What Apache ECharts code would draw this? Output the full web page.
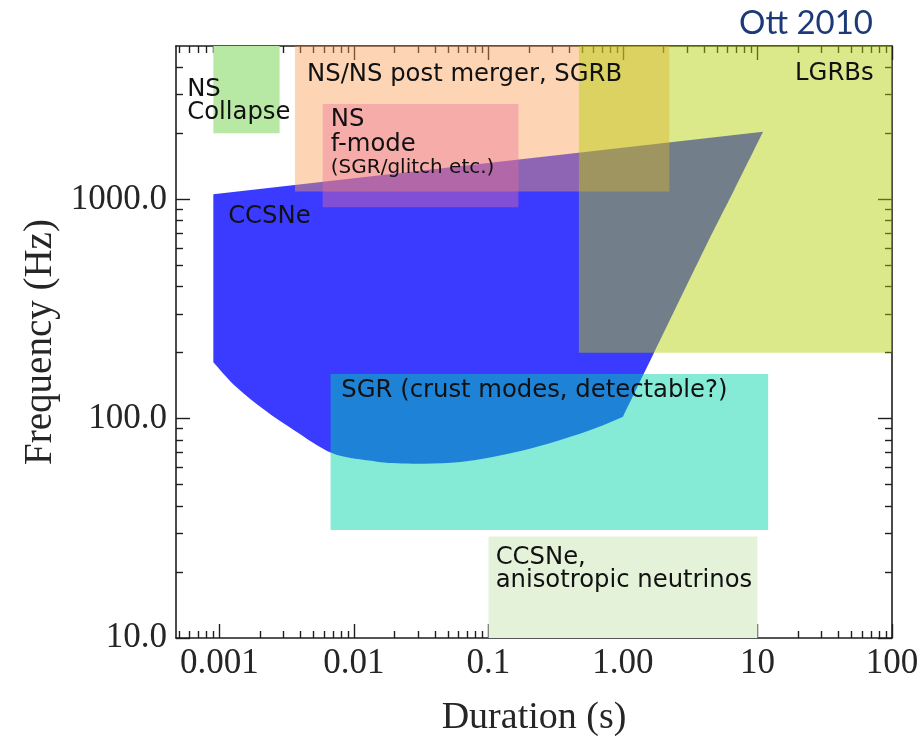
<!DOCTYPE html>
<html>
<head>
<meta charset="utf-8">
<script src="https://cdn.jsdelivr.net/npm/echarts@6/dist/echarts.min.js"></script>
<style>
html,body{margin:0;padding:0;background:#fff;}
#chart{width:922px;height:736px;}
</style>
</head>
<body>
<div id="chart"></div>
<script>
// ---------- axis ranges & ticks ----------
const X_MIN = 0.000475, X_MAX = 100;
const Y_MIN = 10, Y_MAX = 5000;
const X_TICKS = [0.001, 0.01, 0.1, 1, 10, 100];
const X_TICK_LABELS = ['0.001', '0.01', '0.1', '1.00', '10', '100'];
const Y_TICKS = [10, 100, 1000];
const Y_TICK_LABELS = ['10.0', '100.0', '1000.0'];
const MINOR_MULT = [2, 3, 4, 5, 6, 7, 8, 9];
const X_MINOR_DECADES = [0.0001, 0.001, 0.01, 0.1, 1, 10];
const Y_MINOR_DECADES = [10, 100, 1000];

// ---------- source regions (duration s, frequency Hz) ----------
const NS_COLLAPSE_X = [0.0009, 0.0028];
const NS_COLLAPSE_Y = [2000, 5000];
const NSNS_X = [0.00364, 2.21];
const NSNS_Y = [1085, 5000];
const FMODE_X = [0.00585, 0.167];
const FMODE_Y = [919, 2723];
const LGRB_X = [0.47, 100];
const LGRB_Y = [200, 5000];
const SGR_X = [0.0067, 12.0];
const SGR_Y = [31.1, 160];
const ANISO_X = [0.1, 10];
const ANISO_Y = [10, 29];

// CCSNe outline: top-left corner, left edge, bottom curve (to kink at 1 s), right edge, top-right corner
const CCSN_X = [0.0009, 0.0009, 0.00134, 0.00219, 0.00361, 0.00684, 0.0129, 0.0229, 0.0619, 0.180, 0.522, 1.0, 1.69, 4.0, 6.7, 11.0];
const CCSN_Y = [1054, 181, 139, 109, 88.4, 69.8, 64.5, 62.5, 63.4, 71.6, 86.9, 102, 198, 587, 1103, 2035];
const CCSN_CURVE = [1, 11];   // index range of the rounded bottom
const CCSN_RIGHT = [11, 15];  // index range of the right edge

// ---------- annotations ----------
const LABEL_TEXT = ['NS', 'Collapse', 'NS/NS post merger, SGRB', 'NS', 'f-mode', 'CCSNe', 'SGR (crust modes, detectable?)', 'CCSNe,', 'anisotropic neutrinos'];
const LABEL_X = [0.000575, 0.000575, 0.00448, 0.00672, 0.00672, 0.00116, 0.00805, 0.113, 0.113];
const LABEL_Y = [3172, 2478, 3683, 2302, 1770, 833, 134.6, 23.3, 18.2];
const SMALL_TEXT = ['(SGR/glitch etc.)'];
const SMALL_X = [0.00672];
const SMALL_Y = [1385];
const RIGHT_TEXT = ['LGRBs'];
const RIGHT_X = [73];
const RIGHT_Y = [3742];

// ---------- helpers ----------
function minorTicks(decades, maxV, minV) {
  const out = [];
  decades.forEach(d => MINOR_MULT.forEach(m => {
    const v = d * m;
    if (v > minV && v < maxV) out.push(v);
  }));
  return out;
}
const X_MINOR = minorTicks(X_MINOR_DECADES, X_MAX, X_MIN);
const Y_MINOR = minorTicks(Y_MINOR_DECADES, Y_MAX, Y_MIN);

function labelFor(ticks, labels) {
  return function (v) {
    for (let i = 0; i < ticks.length; i++) {
      if (Math.abs(Math.log10(v) - Math.log10(ticks[i])) < 1e-6) return labels[i];
    }
    return '';
  };
}

const AX = '#1e1e1e';
const SERIF = '"Liberation Serif", "DejaVu Serif", serif';
const SANS = '"DejaVu Sans", sans-serif';

function xAxisDef(pos, major, showLine, extra) {
  return Object.assign({
    type: 'log', logBase: 10, min: X_MIN, max: X_MAX, position: pos,
    axisLine: { show: showLine, onZero: false, lineStyle: { color: AX, width: 1.6 } },
    axisTick: { show: true, inside: true, length: major ? 14 : 7, customValues: major ? X_TICKS : X_MINOR, lineStyle: { color: AX, width: 1.4 } },
    axisLabel: { show: false },
    splitLine: { show: false }, minorTick: { show: false }, minorSplitLine: { show: false }
  }, extra || {});
}
function yAxisDef(pos, major, showLine, extra) {
  return Object.assign({
    type: 'log', logBase: 10, min: Y_MIN, max: Y_MAX, position: pos,
    axisLine: { show: showLine, onZero: false, lineStyle: { color: AX, width: 1.6 } },
    axisTick: { show: true, inside: true, length: major ? 14 : 7, customValues: major ? Y_TICKS : Y_MINOR, lineStyle: { color: AX, width: 1.4 } },
    axisLabel: { show: false },
    splitLine: { show: false }, minorTick: { show: false }, minorSplitLine: { show: false }
  }, extra || {});
}

function rectSeries(name, xs, ys, color, z) {
  return {
    type: 'custom', name: name, xAxisIndex: 0, yAxisIndex: 0, z: z, clip: true, silent: true,
    data: [[xs[0], xs[1], ys[0], ys[1]]],
    encode: { x: [0, 1], y: [2, 3] },
    renderItem: function (params, api) {
      const a = api.coord([api.value(0), api.value(2)]);
      const b = api.coord([api.value(1), api.value(3)]);
      return {
        type: 'rect',
        shape: { x: Math.min(a[0], b[0]), y: Math.min(a[1], b[1]), width: Math.abs(b[0] - a[0]), height: Math.abs(b[1] - a[1]) },
        style: { fill: color }
      };
    }
  };
}

function textSeries(texts, xs, ys, size, align, z) {
  return {
    type: 'custom', xAxisIndex: 0, yAxisIndex: 0, z: z, silent: true,
    data: texts.map((t, i) => [xs[i], ys[i]]),
    encode: { x: 0, y: 1 },
    renderItem: function (params, api) {
      const p = api.coord([api.value(0), api.value(1)]);
      return {
        type: 'text',
        style: { text: texts[params.dataIndex], x: p[0], y: p[1], fill: '#111', fontSize: size, fontFamily: SANS, align: align, verticalAlign: 'middle' }
      };
    }
  };
}

// smooth chain (Catmull-Rom -> cubic Bezier) through pixel points pts[a..b]
function smoothChain(pts, a, b) {
  let d = '';
  for (let i = a; i < b; i++) {
    const p0 = pts[Math.max(i - 1, a)], p1 = pts[i], p2 = pts[i + 1], p3 = pts[Math.min(i + 2, b)];
    const c1 = [p1[0] + (p2[0] - p0[0]) / 6, p1[1] + (p2[1] - p0[1]) / 6];
    const c2 = [p2[0] - (p3[0] - p1[0]) / 6, p2[1] - (p3[1] - p1[1]) / 6];
    d += ' C' + c1[0].toFixed(2) + ',' + c1[1].toFixed(2) + ' ' + c2[0].toFixed(2) + ',' + c2[1].toFixed(2) + ' ' + p2[0].toFixed(2) + ',' + p2[1].toFixed(2);
  }
  return d;
}

const chart = echarts.init(document.getElementById('chart'), null, { renderer: 'canvas' });

const option = {
  animation: false,
  backgroundColor: '#ffffff',
  title: {
    text: 'Ott 2010', right: 44, top: 2,
    textStyle: { fontFamily: 'Lato, "Open Sans", sans-serif', fontSize: 33, fontWeight: 'normal', color: '#1d3a78' }
  },
  grid: { left: 176, right: 30, top: 46, bottom: 98, outerBoundsMode: 'none', containLabel: false },
  xAxis: [
    xAxisDef('bottom', true, true, {
      name: 'Duration (s)', nameLocation: 'middle', nameGap: 61,
      nameTextStyle: { fontFamily: SERIF, fontSize: 38, color: '#262626' },
      axisLabel: { show: true, customValues: X_TICKS, formatter: labelFor(X_TICKS, X_TICK_LABELS), margin: 8, fontFamily: SERIF, fontSize: 35, color: '#262626' }
    }),
    xAxisDef('bottom', false, false),
    xAxisDef('top', true, true),
    xAxisDef('top', false, false)
  ],
  yAxis: [
    yAxisDef('left', true, true, {
      name: 'Frequency (Hz)', nameLocation: 'middle', nameGap: 112, nameRotate: 90,
      nameTextStyle: { fontFamily: SERIF, fontSize: 39, color: '#262626' },
      axisLabel: { show: true, customValues: Y_TICKS, formatter: labelFor(Y_TICKS, Y_TICK_LABELS), margin: 9, fontFamily: SERIF, fontSize: 35, color: '#262626' }
    }),
    yAxisDef('left', false, false),
    yAxisDef('right', true, true),
    yAxisDef('right', false, false)
  ],
  series: [
    {
      type: 'custom', name: 'CCSNe', xAxisIndex: 0, yAxisIndex: 0, z: 1, clip: true, silent: true,
      data: CCSN_X.map((x, i) => [x, CCSN_Y[i]]),
      encode: { x: 0, y: 1 },
      renderItem: function (params, api) {
        if (params.dataIndex !== 0) return null;
        const pts = CCSN_X.map((x, i) => api.coord([x, CCSN_Y[i]]));
        let d = 'M' + pts[0][0] + ',' + pts[0][1] + ' L' + pts[CCSN_CURVE[0]][0] + ',' + pts[CCSN_CURVE[0]][1];
        d += smoothChain(pts, CCSN_CURVE[0], CCSN_CURVE[1]);
        d += smoothChain(pts, CCSN_RIGHT[0], CCSN_RIGHT[1]);
        d += ' Z';
        return { type: 'path', shape: { pathData: d }, style: { fill: 'rgba(0,0,255,0.77)' } };
      }
    },
    rectSeries('NS/NS post merger, SGRB', NSNS_X, NSNS_Y, 'rgba(251,157,82,0.43)', 2),
    rectSeries('NS f-mode', FMODE_X, FMODE_Y, 'rgba(235,110,150,0.4)', 3),
    rectSeries('NS Collapse', NS_COLLAPSE_X, NS_COLLAPSE_Y, '#b7e9a5', 3),
    rectSeries('LGRBs', LGRB_X, LGRB_Y, 'rgba(178,207,0,0.46)', 4),
    rectSeries('SGR', SGR_X, SGR_Y, 'rgba(0,211,169,0.48)', 5),
    rectSeries('CCSNe anisotropic neutrinos', ANISO_X, ANISO_Y, '#e4f2da', 5),
    textSeries(LABEL_TEXT, LABEL_X, LABEL_Y, 24.3, 'left', 10),
    textSeries(SMALL_TEXT, SMALL_X, SMALL_Y, 20, 'left', 10),
    textSeries(RIGHT_TEXT, RIGHT_X, RIGHT_Y, 24.3, 'right', 10)
  ]
};
chart.setOption(option);
</script>
</body>
</html>
